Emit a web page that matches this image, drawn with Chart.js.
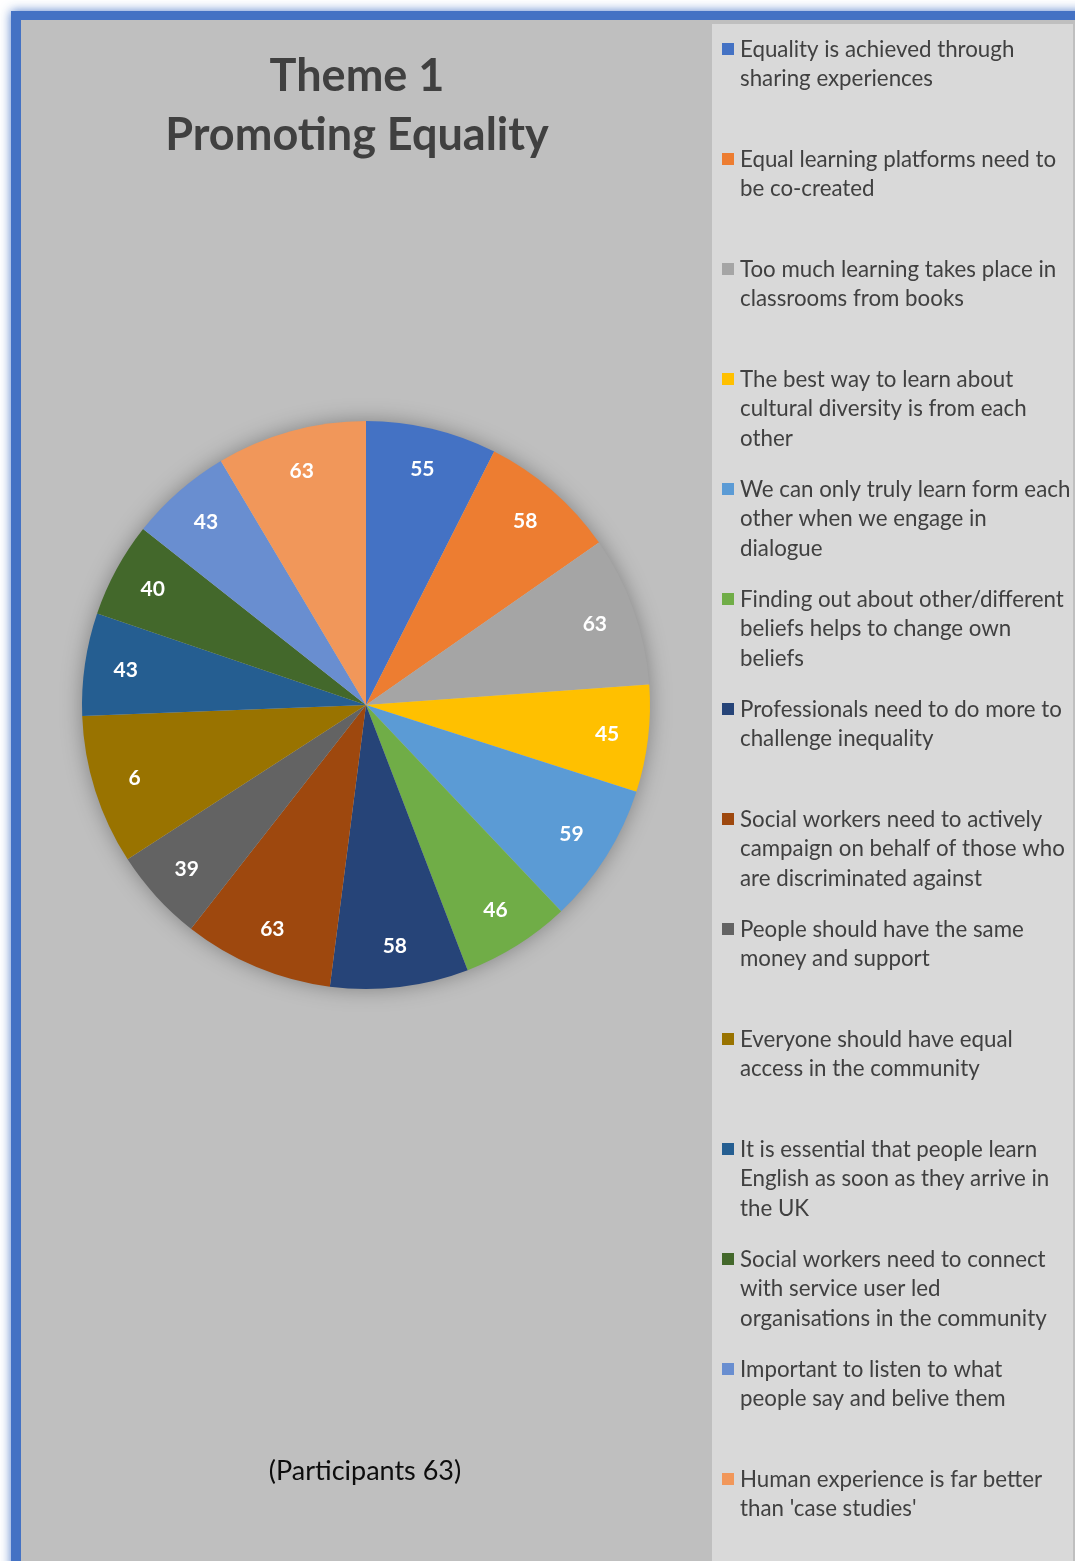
<!DOCTYPE html>
<html lang="en">
<head>
  <meta charset="UTF-8" />
  <title>Theme 1 Promoting Equality</title>
  <script src="https://cdn.jsdelivr.net/npm/chart.js"></script>
  <style>
    html, body { margin: 0; padding: 0; background: #ffffff; }
    canvas { display: block; }
  </style>
</head>
<body>
  <canvas id="themeChart" width="1075" height="1561"></canvas>

  <script>
    // Statements (legend text, already broken into lines)
    const statements = [
      ['Equality is achieved through', 'sharing experiences'],
      ['Equal learning platforms need to', 'be co-created'],
      ['Too much learning takes place in', 'classrooms from books'],
      ['The best way to learn about', 'cultural diversity is from each', 'other'],
      ['We can only truly learn form each', 'other when we engage in', 'dialogue'],
      ['Finding out about other/different', 'beliefs helps to change own', 'beliefs'],
      ['Professionals need to do more to', 'challenge inequality'],
      ['Social workers need to actively', 'campaign on behalf of those who', 'are discriminated against'],
      ['People should have the same', 'money and support'],
      ['Everyone should have equal', 'access in the community'],
      ['It is essential that people learn', 'English as soon as they arrive in', 'the UK'],
      ['Social workers need to connect', 'with service user led', 'organisations in the community'],
      ['Important to listen to what', 'people say and belive them'],
      ['Human experience is far better', "than 'case studies'"]
    ];

    // Number of participants agreeing with each statement
    const agreeCounts = [55, 58, 63, 45, 59, 46, 58, 63, 39, 63, 43, 40, 43, 63];

    // Labels as printed on the slices (the 10th one shows only "6")
    const sliceLabels = ['55', '58', '63', '45', '59', '46', '58', '63', '39', '6', '43', '40', '43', '63'];

    const sliceColors = [
      '#4472C4', '#ED7D31', '#A5A5A5', '#FFC000', '#5B9BD5', '#70AD47', '#264478',
      '#9E480E', '#636363', '#997300', '#255E91', '#43682B', '#698ED0', '#F1975A'
    ];

    const titleLines = ['Theme 1', 'Promoting Equality'];
    const footnote = '(Participants 63)';

    const FONT = 'Lato, "Open Sans", sans-serif';

    // Frame, grey plot area and legend panel behind the chart
    const backdrop = {
      id: 'backdrop',
      beforeDraw(chart) {
        const ctx = chart.ctx;
        ctx.save();
        ctx.shadowColor = 'rgba(68,114,196,0.9)';
        ctx.shadowBlur = 10;
        ctx.fillStyle = '#4472C4';
        ctx.fillRect(11, 11, 1100, 1600);
        ctx.shadowBlur = 0;
        ctx.fillStyle = '#BFBFBF';
        ctx.fillRect(21, 20, 1060, 1560);
        ctx.fillStyle = '#D9D9D9';
        ctx.fillRect(712, 24, 361, 1560);
        ctx.restore();
      },
      beforeDatasetsDraw(chart) {
        // soft shadow under the pie
        const arc = chart.getDatasetMeta(0).data[0];
        if (!arc) return;
        const p = arc.getProps(['x', 'y', 'outerRadius'], true);
        const ctx = chart.ctx;
        ctx.save();
        ctx.shadowColor = 'rgba(0,0,0,0.35)';
        ctx.shadowBlur = 22;
        ctx.fillStyle = '#BFBFBF';
        ctx.beginPath();
        ctx.arc(p.x, p.y, p.outerRadius - 1, 0, Math.PI * 2);
        ctx.fill();
        ctx.restore();
      }
    };

    // Value labels, title, footnote and the wrapped legend
    const annotations = {
      id: 'annotations',
      afterDatasetsDraw(chart) {
        const ctx = chart.ctx;
        ctx.save();
        ctx.fillStyle = '#FFFFFF';
        ctx.font = 'bold 21px ' + FONT;
        ctx.textAlign = 'center';
        ctx.textBaseline = 'middle';
        chart.getDatasetMeta(0).data.forEach((arc, i) => {
          const p = arc.getProps(['x', 'y', 'startAngle', 'endAngle', 'outerRadius'], true);
          const mid = (p.startAngle + p.endAngle) / 2;
          const r = p.outerRadius * 0.855;
          ctx.fillText(sliceLabels[i], p.x + Math.cos(mid) * r, p.y + Math.sin(mid) * r);
        });

        // title
        ctx.fillStyle = '#404040';
        ctx.font = 'bold 45px ' + FONT;
        ctx.fillText(titleLines[0], 357, 76);
        ctx.fillText(titleLines[1], 357, 135);

        // footnote
        ctx.fillStyle = '#0D0D0D';
        ctx.font = '27px ' + FONT;
        ctx.fillText(footnote, 365, 1471);

        // legend
        ctx.textAlign = 'left';
        ctx.font = '22.3px ' + FONT;
        statements.forEach((lines, i) => {
          const y0 = 50 + i * 110;
          ctx.fillStyle = sliceColors[i];
          ctx.fillRect(722, y0 - 7, 12, 12);
          ctx.fillStyle = '#404040';
          lines.forEach((line, j) => ctx.fillText(line, 740, y0 + j * 29.3));
        });
        ctx.restore();
      }
    };

    new Chart(document.getElementById('themeChart'), {
      type: 'pie',
      data: {
        labels: statements,
        datasets: [{
          data: agreeCounts,
          backgroundColor: sliceColors,
          borderWidth: 0
        }]
      },
      options: {
        responsive: false,
        animation: false,
        devicePixelRatio: 1,
        layout: { padding: { left: 82, right: 425, top: 421, bottom: 572 } },
        plugins: {
          legend: { display: false },
          tooltip: { enabled: false }
        }
      },
      plugins: [backdrop, annotations]
    });
  </script>
</body>
</html>
